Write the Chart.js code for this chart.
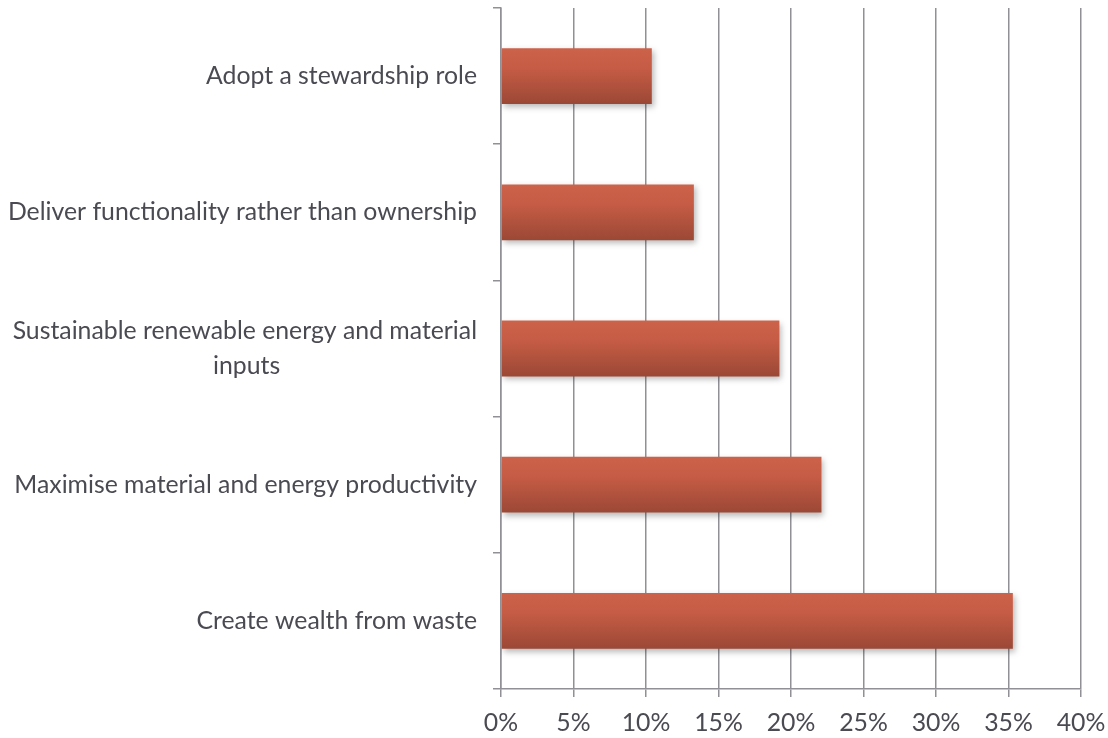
<!DOCTYPE html>
<html>
<head>
<meta charset="utf-8">
<script src="https://cdn.jsdelivr.net/npm/chart.js@4"></script>
<style>
  html, body { margin: 0; padding: 0; background: #fff; }
  #wrap { width: 1108px; height: 738px; }
</style>
</head>
<body>
<div id="wrap"><canvas id="barchart"></canvas></div>
<script>
// Categories, top to bottom
const principles = [
    'Adopt a stewardship role',
    'Deliver functionality rather than ownership',
    ['Sustainable renewable energy and material', 'inputs'],
    'Maximise material and energy productivity',
    'Create wealth from waste'
];
const shares = [10.4, 13.3, 19.2, 22.1, 35.3];   // % of respondents
const xTicks = [0, 5, 10, 15, 20, 25, 30, 35, 40];

const gridGrey = '#909096';
const textGrey = '#4a4a52';
const family = 'Lato';

// pick a size so the longest label is about as wide as in the original (~469px)
const measurer = document.createElement('canvas').getContext('2d');
measurer.font = '100px ' + family;
const fontSize = Math.round(100 * 469 / measurer.measureText(principles[1]).width * 10) / 10;

// pad the short second line so it sits roughly centred under the first one
function centreSecondLine(label) {
    if (!Array.isArray(label)) return label;
    measurer.font = fontSize + 'px ' + family;
    const w0 = measurer.measureText(label[0]).width;
    const w1 = measurer.measureText(label[1]).width;
    const sp = measurer.measureText(' ').width;
    const n = Math.round((w0 - w1) / 2 / sp);
    return [label[0], label[1] + ' '.repeat(n)];
}
const yLabels = principles.map(centreSecondLine);

// soft shadow under the bars
const barShadow = {
    id: 'barShadow',
    beforeDatasetsDraw(chart) {
        const ctx = chart.ctx;
        ctx.save();
        ctx.shadowColor = 'rgba(0,0,0,0.28)';
        ctx.shadowBlur = 6;
        ctx.shadowOffsetX = 2;
        ctx.shadowOffsetY = 3;
    },
    afterDatasetsDraw(chart) {
        chart.ctx.restore();
    }
};

function barGradient(context) {
    const chart = context.chart;
    const y = chart.scales.y;
    if (!y || !chart.chartArea) return '#c0583f';
    const cy = y.getPixelForValue(context.dataIndex);
    const band = y.getPixelForDecimal(1 / shares.length) - y.getPixelForDecimal(0);
    const h = band * 0.41 / 2;
    const g = chart.ctx.createLinearGradient(0, cy - h, 0, cy + h);
    g.addColorStop(0, '#cd624a');
    g.addColorStop(0.35, '#c65c45');
    g.addColorStop(1, '#9b4836');
    return g;
}

new Chart(document.getElementById('barchart'), {
    type: 'bar',
    data: {
        labels: yLabels,
        datasets: [{
            data: shares,
            backgroundColor: barGradient,
            borderWidth: 0,
            barPercentage: 0.41,
            categoryPercentage: 1
        }]
    },
    options: {
        indexAxis: 'y',
        responsive: true,
        maintainAspectRatio: false,
        animation: false,
        layout: { padding: { top: 8, right: 27, left: 0, bottom: 0 } },
        scales: {
            x: {
                min: 0,
                max: 40,
                afterBuildTicks: axis => { axis.ticks = xTicks.map(v => ({ value: v })); },
                afterFit: axis => { axis.height = 49; axis.paddingLeft = 0; axis.paddingRight = 0; },
                border: { color: gridGrey, width: 1.5 },
                grid: { color: gridGrey, lineWidth: 1.5, tickLength: 8 },
                ticks: {
                    color: textGrey,
                    padding: 11,
                    font: { family: family, size: fontSize },
                    callback: v => v + '%'
                }
            },
            y: {
                afterFit: axis => { axis.width = 501; axis.paddingTop = 0; axis.paddingBottom = 0; },
                border: { color: gridGrey, width: 1.5 },
                grid: { drawOnChartArea: false, color: gridGrey, lineWidth: 1.5, tickLength: 8, offset: true },
                ticks: {
                    color: textGrey,
                    padding: 16,
                    font: { family: family, size: fontSize, lineHeight: 1.4 }
                }
            }
        },
        plugins: {
            legend: { display: false },
            tooltip: { enabled: false }
        }
    },
    plugins: [barShadow]
});
</script>
</body>
</html>
